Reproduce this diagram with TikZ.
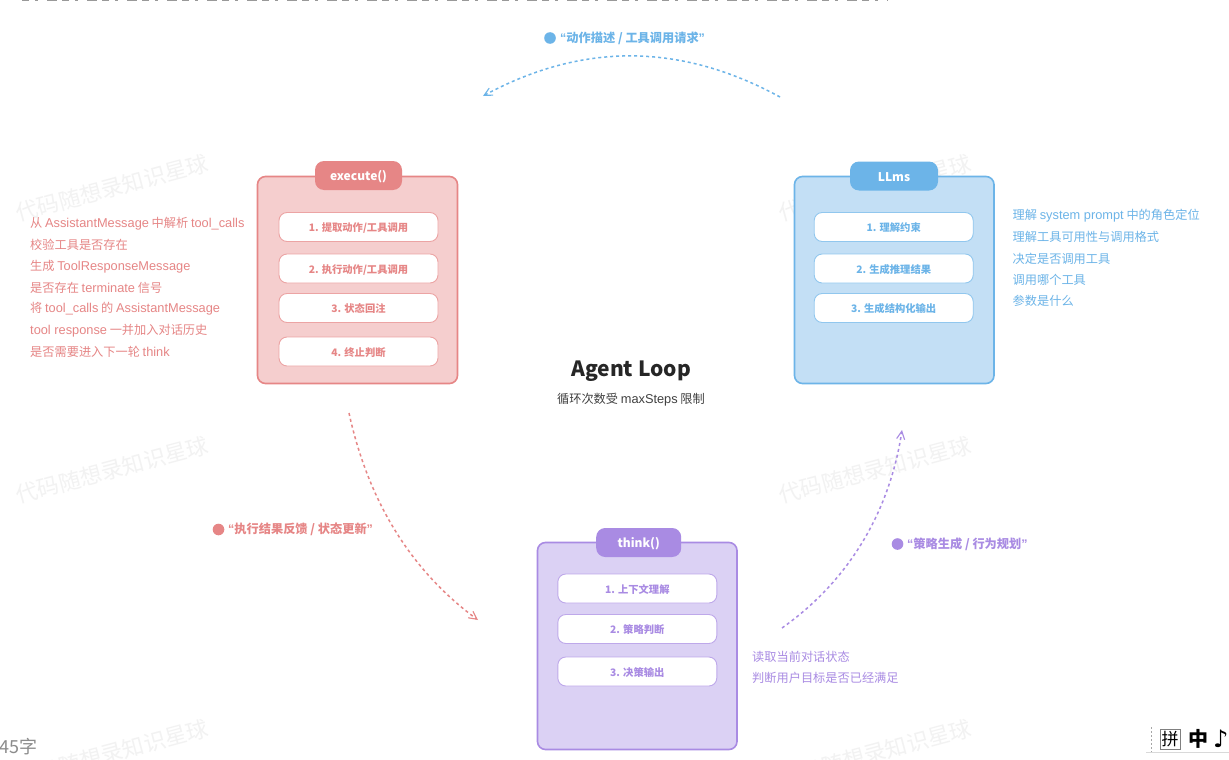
\documentclass[tikz,border=0pt]{standalone}
\usepackage{fontspec}
\setmainfont{Noto Sans CJK SC}
\newfontfamily\dejavu{DejaVu Sans}
\newfontfamily\latfont{Liberation Sans}
\usetikzlibrary{arrows.meta}
\definecolor{redS}{HTML}{E68686}\definecolor{redF}{HTML}{F5CECE}
\definecolor{bluS}{HTML}{6CB4E8}\definecolor{bluF}{HTML}{C3DFF5}
\definecolor{purS}{HTML}{A98BE3}\definecolor{purF}{HTML}{DBD1F4}
\newcommand{\fs}[1]{\fontsize{#1}{#1}\selectfont}
\newcommand{\lat}[1]{{\latfont\fs{12.8}#1}}
\newcommand{\qo}{{\latfont\fs{12.5}\bfseries “}}
\newcommand{\qc}{{\latfont\fs{12.5}\bfseries ”}}
\tikzset{
 x=1pt,y=-1pt,
 panel/.style={draw=#1,line width=1.6pt,rounded corners=8pt},
 tabbox/.style={fill=#1,rounded corners=9pt,text=white,font=\fs{12}\bfseries,align=center,inner sep=0pt,text height=10.5pt,text depth=.5pt},
 stepbox/.style={draw=#1!75,line width=.9pt,fill=white,rounded corners=8pt,text=#1,font=\fs{10.3}\bfseries,inner sep=0pt,minimum width=159pt,minimum height=29pt,anchor=center,text height=9.6pt,text depth=.3pt},
 note/.style={text=#1,font=\fs{12.2},anchor=west,inner sep=0pt,yshift=-1pt},
 flowlabel/.style={text=#1,font=\fs{12.2}\bfseries,anchor=west,inner sep=0pt},
 flow/.style={draw=#1,line width=1.5pt,dash pattern=on 3pt off 3pt,-{Straight Barb[length=8pt,width=8pt,line width=1.1pt]}},
 wm/.style={text=black!5,font=\fs{22},rotate=15,inner sep=0pt},
}
\begin{document}
\begin{tikzpicture}
\useasboundingbox (0,0) rectangle (1229,760);
\clip (0,0) rectangle (1229,760);
\fill[white] (0,0) rectangle (1229,760);
% watermarks
\foreach \n/\a/\b in {a/112/188,b/875/188,c/112/470,d/875/470,e/112/753,f/875/753}
  \node[wm] (wm\n) at (\a,\b) {代码随想录知识星球};
% illegible bottom edge of the cut-off heading line
\draw[black!40,line width=1.6pt,dash pattern=on 7pt off 6pt on 3pt off 9pt on 10pt off 5pt] (22,.6) -- (888,.6);
% panels
\draw[panel=redS,fill=redF] (257.5,176.5) rectangle (457.5,383.5);
\draw[panel=bluS,fill=bluF] (794.5,176.5) rectangle (994,383.5);
\draw[panel=purS,fill=purF] (537.5,542.5) rectangle (737,749.5);
\node[tabbox=redS,minimum width=87pt,minimum height=29pt] (ex) at (358.5,175.5) {execute()};
\node[tabbox=bluS,minimum width=88pt,minimum height=29pt] (ll) at (894,176) {LLms};
\node[tabbox=purS,minimum width=85pt,minimum height=29pt] (th) at (638.7,542.5) {think()};
% steps
\node[stepbox=redS] (e1) at (358.5,227) {1. 提取动作/工具调用};
\node[stepbox=redS] (e2) at (358.5,268.5) {2. 执行动作/工具调用};
\node[stepbox=redS] (e3) at (358.5,308) {3. 状态回注};
\node[stepbox=redS] (e4) at (358.5,351.5) {4. 终止判断};
\node[stepbox=bluS] (l1) at (893.7,227) {1. 理解约束};
\node[stepbox=bluS] (l2) at (893.7,268.5) {2. 生成推理结果};
\node[stepbox=bluS] (l3) at (893.7,308) {3. 生成结构化输出};
\node[stepbox=purS] (t1) at (637.3,588.5) {1. 上下文理解};
\node[stepbox=purS] (t2) at (637.3,629) {2. 策略判断};
\node[stepbox=purS] (t3) at (637.3,671.5) {3. 决策输出};
% centre
\node[font=\fs{21}\bfseries,text=black!85,inner sep=0pt] (title) at (631,371) {Agent Loop};
\node[font=\fs{12.2},text=black!75,inner sep=0pt] (sub) at (631,400) {循环次数受 \lat{maxSteps} 限制};
% notes
\foreach \n/\y/\t in {1/222.5/从 \lat{AssistantMessage} 中解析 \lat{tool\_calls},2/244/校验工具是否存在,3/265.5/生成 \lat{ToolResponseMessage},4/286.5/是否存在 \lat{terminate} 信号,5/308/将 \lat{tool\_calls} 的 \lat{AssistantMessage},6/329.5/\lat{tool response} 一并加入对话历史,7/351/是否需要进入下一轮 \lat{think}}
  \node[note=redS] (rn\n) at (30,\y) {\t};
\foreach \n/\y/\t in {1/215/理解 \lat{system prompt} 中的角色定位,2/236/理解工具可用性与调用格式,3/258/决定是否调用工具,4/279/调用哪个工具,5/300/参数是什么}
  \node[note=bluS] (bn\n) at (1012.5,\y) {\t};
\foreach \n/\y/\t in {1/656/读取当前对话状态,2/676.5/判断用户目标是否已经满足}
  \node[note=purS] (pn\n) at (752,\y) {\t};
% flow labels
\fill[bluS] (550,38) circle (5.8pt); \node[flowlabel=bluS] (fb) at (560,38) {\qo 动作描述 / 工具调用请求\qc};
\fill[redS] (218.5,529.5) circle (5.8pt); \node[flowlabel=redS] (fr) at (228,529.5) {\qo 执行结果反馈 / 状态更新\qc};
\fill[purS] (897.5,544) circle (5.8pt); \node[flowlabel=purS] (fp) at (907,544) {\qo 策略生成 / 行为规划\qc};
% connectors
\coordinate (b0) at (780,97); \coordinate (b1) at (483,96);
\coordinate (r0) at (349,413); \coordinate (r1) at (478,620);
\coordinate (p0) at (782,628); \coordinate (p1) at (902,430);
\draw[flow=bluS] (b0) .. controls (680,42.5) and (582,42.5) .. (b1);
\draw[flow=redS] (r0) .. controls (368,500) and (410,570) .. (r1);
\draw[flow=purS] (p0) .. controls (850,580) and (890,510) .. (p1);
% editor chrome
\node[anchor=west,inner sep=0pt,text=black!45,font=\fs{18}] (count) at (-1,747) {45字};
\draw[black!35,line width=1pt,dash pattern=on 1.5pt off 2.5pt] (1151,727) -- (1151,752);
\draw[black!15] (1146,752) -- (1229,752);
\node[draw=black!50,line width=.7pt,inner sep=0pt,minimum size=20pt,font=\fs{17}] (pin) at (1170,739) {拼};
\node[inner sep=0pt,font=\fs{20}\bfseries] (zh) at (1198,739) {中};
\node[inner sep=0pt,font=\dejavu\fs{24}\bfseries,anchor=west] (yue) at (1213,739) {♪};
\end{tikzpicture}
\end{document}
